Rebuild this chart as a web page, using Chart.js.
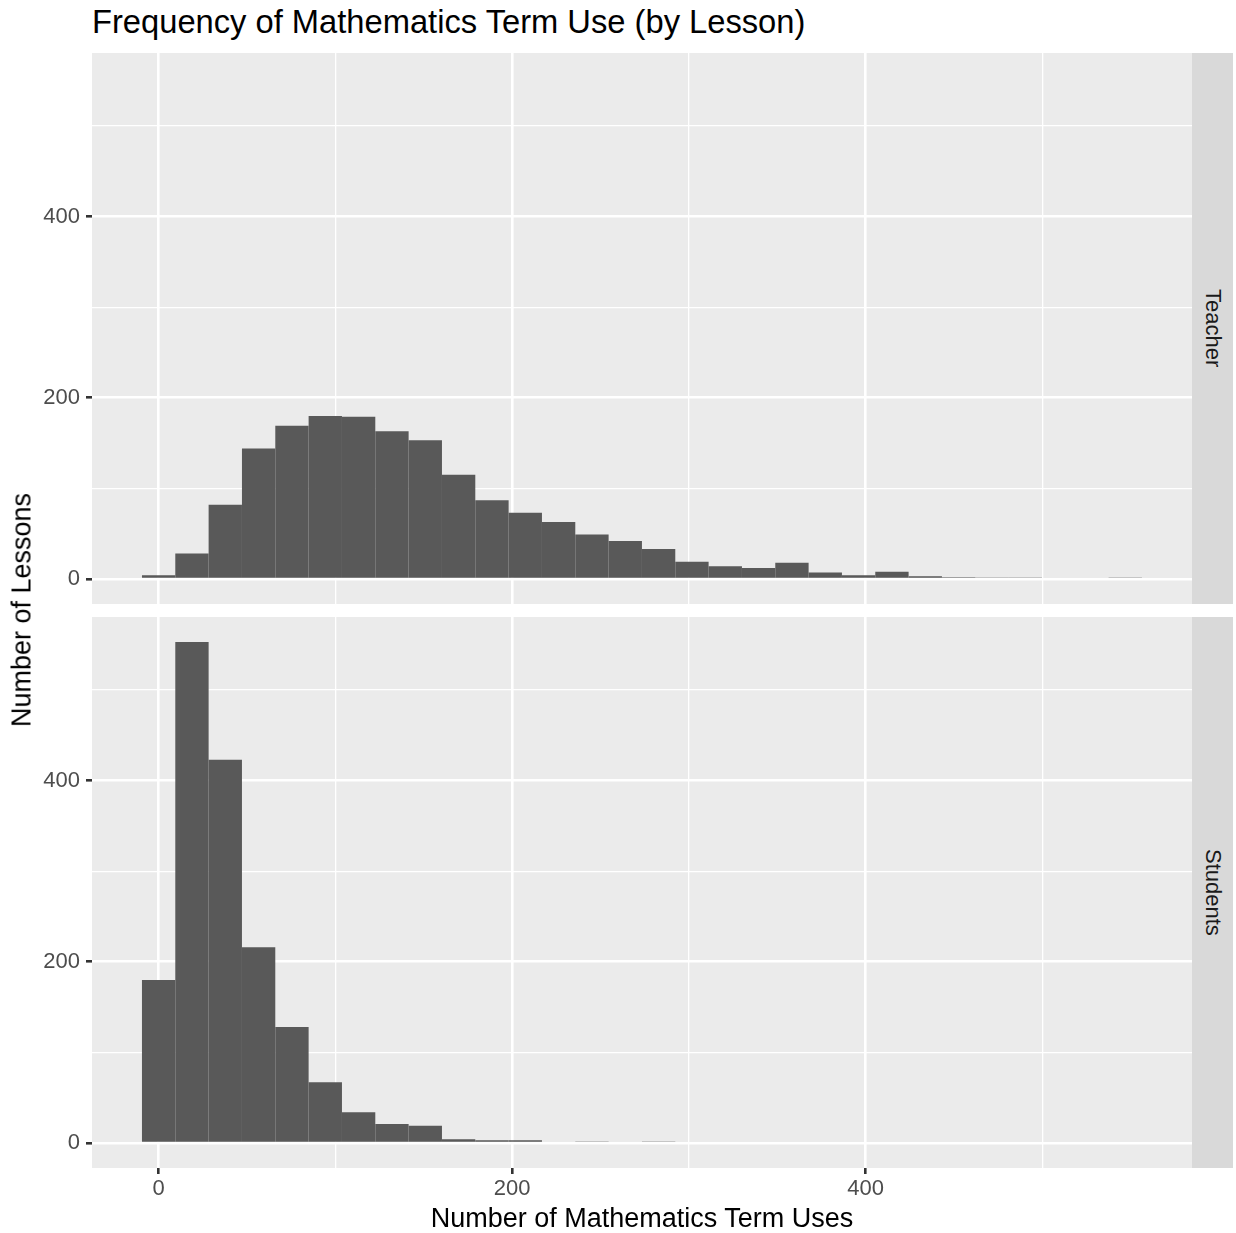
<!DOCTYPE html>
<html>
<head>
<meta charset="utf-8">
<script src="https://cdn.jsdelivr.net/npm/chart.js@4.4.0/dist/chart.umd.min.js"></script>
<style>
  body { margin: 0; background: #fff; width: 1236px; height: 1233px; position: relative; overflow: hidden;
         font-family: "Liberation Sans", Arial, sans-serif; }
  canvas { position: absolute; left: 0; }
  .txt { position: absolute; white-space: nowrap; }
  .strip { position: absolute; left: 1192px; width: 41px; height: 551px; background: #D9D9D9;
           display: flex; align-items: center; justify-content: center; }
  .strip span { writing-mode: vertical-rl; font-size: 22px; color: #1A1A1A; }
</style>
</head>
<body>
<div class="txt" style="left:92px; top:6px; font-size:32.7px; line-height:32px; color:#000;">Frequency of Mathematics Term Use (by Lesson)</div>

<canvas id="teacher" width="1192" height="551" style="top:53px"></canvas>
<canvas id="students" width="1192" height="591" style="top:617px"></canvas>

<div class="strip" style="top:53px"><span>Teacher</span></div>
<div class="strip" style="top:617px"><span>Students</span></div>

<div class="txt" style="left:22px; top:610px; font-size:27px; line-height:27px; color:#000; transform:translate(-50%,-50%) rotate(-90deg);">Number of Lessons</div>
<div class="txt" style="left:642px; top:1205px; font-size:27px; line-height:27px; color:#000; transform:translateX(-50%);">Number of Mathematics Term Uses</div>

<script>
// histogram bins: 30 bins, first one centred on 0
const binWidth = 18.86;
const teacherCounts = [4, 28, 82, 144, 169, 180, 179, 163, 153, 115, 87, 73, 63, 49, 42,
                       33, 19, 14, 12, 18, 7, 4, 8, 3, 2, 1, 1, 0, 0, 1];
const studentCounts = [180, 553, 423, 216, 128, 67, 34, 21, 19, 4, 3, 3, 0, 1, 0,
                       1, 0, 0, 0, 0, 0, 0, 0, 0, 0, 0, 0, 0, 0, 0];
const xTicks = [0, 100, 200, 300, 400, 500];
const yTicks = [0, 100, 200, 300, 400, 500];
const labelStep = 200;

const binCenters = teacherCounts.map((_, i) => i * binWidth);
const xMin = -37.7, xMax = 584.7;
const yMin = -27.65, yMax = 580.65;
const fontFamily = '"Liberation Sans", Arial, sans-serif';

// fond gris du panneau (theme_gray)
const fondPanel = {
    id: 'fondPanel',
    beforeDraw(chart) {
        const { ctx, chartArea: a } = chart;
        ctx.save();
        ctx.fillStyle = '#EBEBEB';
        ctx.fillRect(a.left, a.top, a.right - a.left, a.bottom - a.top);
        ctx.restore();
    }
};

const esMayor = c => c.tick && c.tick.value % labelStep === 0;
const anchoGrid = c => esMayor(c) ? 2.6 : 1.3;
const colorTick = c => esMayor(c) ? '#333333' : 'rgba(0,0,0,0)';
const etiqueta = v => v % labelStep === 0 ? String(v) : '';

function crearPanel(idCanvas, valores, conEjeX) {
    const ctx = document.getElementById(idCanvas).getContext('2d');
    return new Chart(ctx, {
        type: 'bar',
        data: {
            datasets: [{
                data: valores.map((n, i) => ({ x: binCenters[i], y: n })),
                backgroundColor: '#595959',
                borderWidth: 0,
                inflateAmount: 0,
                barPercentage: 1,
                categoryPercentage: 1
            }]
        },
        options: {
            responsive: false,
            animation: false,
            devicePixelRatio: 1,
            layout: { padding: 0 },
            plugins: { legend: { display: false }, tooltip: { enabled: false } },
            scales: {
                x: {
                    type: 'linear', min: xMin, max: xMax, offset: false,
                    afterBuildTicks: s => { s.ticks = xTicks.map(v => ({ value: v })); },
                    afterFit: s => { s.height = conEjeX ? 40 : 0; s.paddingLeft = 0; s.paddingRight = 0; },
                    grid: { offset: false, color: '#FFFFFF', lineWidth: anchoGrid, drawTicks: conEjeX,
                            tickLength: 6, tickColor: colorTick, tickWidth: 2.6 },
                    border: { display: false },
                    ticks: { display: conEjeX, autoSkip: false, maxRotation: 0, padding: 2,
                             color: '#4D4D4D', font: { family: fontFamily, size: 22 }, callback: etiqueta }
                },
                y: {
                    type: 'linear', min: yMin, max: yMax,
                    afterBuildTicks: s => { s.ticks = yTicks.map(v => ({ value: v })); },
                    afterFit: s => { s.width = 92; s.paddingTop = 0; s.paddingBottom = 0; },
                    grid: { color: '#FFFFFF', lineWidth: anchoGrid, drawTicks: true,
                            tickLength: 6, tickColor: colorTick, tickWidth: 2.6 },
                    border: { display: false },
                    ticks: { autoSkip: false, padding: 6, color: '#4D4D4D',
                             font: { family: fontFamily, size: 22 }, callback: etiqueta }
                }
            }
        },
        plugins: [fondPanel]
    });
}

crearPanel('teacher', teacherCounts, false);
crearPanel('students', studentCounts, true);
</script>
</body>
</html>
